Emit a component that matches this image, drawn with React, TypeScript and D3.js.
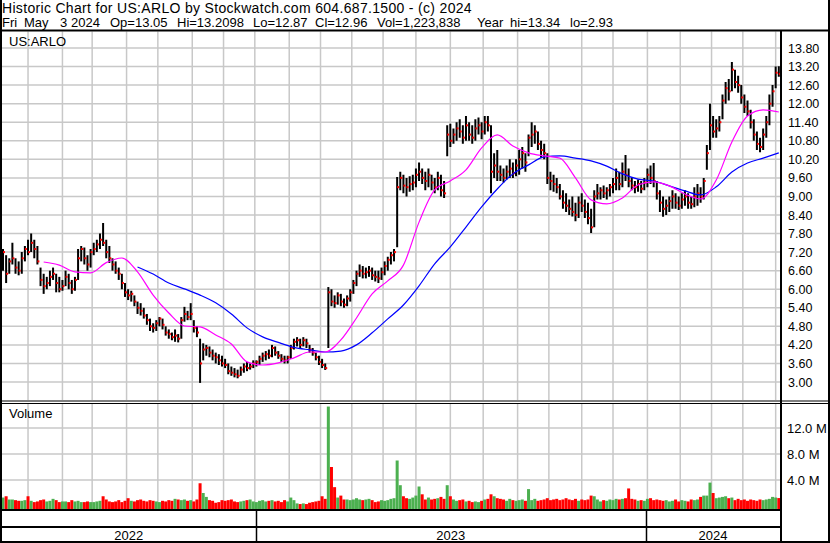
import * as d3 from 'd3';

const FONT = '"Liberation Sans", Arial, sans-serif';

// 2-trading-day bars from mid May 2022 to May 3 2024 (bar j sits on trading day 2*j)
const barHi = [
  7.3, 7.1, 7.0, 7.5, 7.0, 6.9, 7.2, 7.4, 7.6, 7.8,
  7.6, 7.4, 6.7, 6.5, 6.4, 6.6, 6.7, 6.5, 6.4, 6.3,
  6.6, 6.5, 6.3, 6.4, 7.3, 7.4, 7.35, 7.1, 7.3, 7.5,
  7.6, 7.8, 8.14, 7.6, 7.4, 7.0, 6.9, 6.7, 6.5, 6.2,
  6.0, 5.95, 5.8, 5.6, 5.55, 5.4, 5.2, 5.05, 4.9, 5.0,
  5.1, 5.05, 4.8, 4.7, 4.6, 4.7, 4.55, 5.1, 5.43, 5.3,
  5.55, 5.0, 4.8, 4.4, 4.25, 4.2, 4.15, 4.05, 3.95, 3.9,
  3.85, 3.75, 3.6, 3.5, 3.45, 3.4, 3.5, 3.6, 3.65, 3.6,
  3.7, 3.7, 3.85, 3.95, 4.0, 4.05, 4.2, 4.15, 4.0, 3.9,
  3.85, 3.85, 4.2, 4.4, 4.45, 4.4, 4.45, 4.4, 4.2, 4.1,
  3.95, 3.85, 3.75, 3.6, 6.07, 6.0, 5.8, 5.9, 5.85, 5.7,
  5.8, 6.0, 6.3, 6.6, 6.8, 6.75, 6.7, 6.75, 6.7, 6.6,
  6.6, 6.7, 6.9, 7.05, 7.2, 7.3, 9.63, 9.8, 9.7, 9.6,
  9.65, 9.7, 9.9, 10.1, 9.9, 9.8, 9.9, 9.7, 9.6, 9.8,
  9.7, 9.5, 11.3, 11.35, 11.2, 11.4, 11.5, 11.3, 11.6, 11.4,
  11.3, 11.5, 11.55, 11.4, 11.6, 11.6, 11.3, 10.4, 10.5, 10.0,
  9.9, 10.0, 10.2, 10.1, 10.2, 10.5, 10.6, 10.4, 11.0, 11.4,
  11.3, 11.1, 10.8, 10.7, 10.4, 9.8, 9.7, 9.6, 9.4, 9.2,
  9.1, 8.9, 9.0, 8.8, 9.0, 9.1, 8.9, 8.8, 8.6, 9.2,
  9.4, 9.3, 9.35, 9.3, 9.4, 9.6, 9.9, 9.8, 10.1, 10.34,
  9.9, 9.6, 9.5, 9.55, 9.5, 9.6, 9.9, 10.0, 10.08, 9.5,
  9.2, 9.0, 8.9, 9.0, 9.2, 9.1, 9.0, 9.1, 9.2, 9.1,
  9.0, 9.3, 9.4, 9.3, 9.6, 10.66, 12.0, 11.6, 11.5, 11.6,
  12.3, 12.7, 12.8, 13.35, 13.1, 12.9, 12.6, 12.3, 12.1, 11.8,
  11.5, 11.1, 10.9, 11.2, 11.6, 12.3, 12.6, 13.2, 13.21
];
const barLo = [
  6.6, 6.2, 6.5, 6.8, 6.5, 6.45, 6.5, 6.9, 7.1, 7.2,
  7.0, 6.8, 6.1, 5.85, 6.0, 6.1, 6.3, 5.9, 5.9, 5.95,
  6.1, 6.0, 5.85, 5.95, 6.3, 6.9, 6.8, 6.6, 6.7, 7.1,
  7.2, 7.3, 7.4, 7.0, 6.85, 6.6, 6.5, 6.3, 6.0, 5.75,
  5.65, 5.6, 5.45, 5.2, 5.15, 5.05, 4.85, 4.65, 4.6, 4.65,
  4.8, 4.7, 4.5, 4.4, 4.35, 4.3, 4.28, 4.4, 4.95, 5.0,
  5.0, 4.6, 4.45, 2.97, 3.7, 3.85, 3.8, 3.7, 3.6, 3.55,
  3.5, 3.45, 3.25, 3.2, 3.15, 3.12, 3.2, 3.3, 3.35, 3.4,
  3.45, 3.5, 3.55, 3.65, 3.7, 3.75, 3.8, 3.85, 3.75, 3.65,
  3.6, 3.6, 3.75, 4.05, 4.15, 4.1, 4.15, 4.1, 3.95, 3.85,
  3.7, 3.55, 3.45, 3.39, 4.1, 5.45, 5.4, 5.5, 5.45, 5.4,
  5.45, 5.6, 5.85, 6.1, 6.4, 6.35, 6.35, 6.4, 6.3, 6.25,
  6.2, 6.3, 6.45, 6.6, 6.8, 6.9, 7.36, 9.2, 9.1, 9.0,
  9.15, 9.2, 9.3, 9.5, 9.4, 9.2, 9.3, 9.2, 9.1, 9.2,
  9.0, 8.95, 10.3, 10.6, 10.7, 10.8, 10.9, 10.7, 10.8, 10.8,
  10.7, 10.8, 11.0, 10.85, 11.0, 11.1, 9.1, 9.6, 9.5, 9.5,
  9.45, 9.55, 9.6, 9.6, 9.65, 9.7, 9.9, 9.8, 10.3, 10.6,
  10.7, 10.5, 10.25, 10.2, 9.4, 9.2, 9.15, 9.1, 8.9, 8.6,
  8.5, 8.4, 8.35, 8.2, 8.3, 8.5, 8.3, 8.1, 7.82, 8.0,
  8.9, 8.9, 8.95, 8.9, 9.0, 9.1, 9.2, 9.2, 9.3, 9.5,
  9.3, 9.2, 9.1, 9.15, 9.1, 9.2, 9.3, 9.4, 9.3, 8.9,
  8.5, 8.34, 8.4, 8.5, 8.6, 8.6, 8.56, 8.6, 8.7, 8.6,
  8.6, 8.65, 8.7, 8.8, 8.9, 9.86, 10.5, 10.9, 10.9, 11.1,
  11.5, 12.0, 12.1, 12.4, 12.5, 12.35, 12.0, 11.7, 11.6, 11.2,
  10.8, 10.5, 10.43, 10.5, 10.9, 11.3, 11.9, 12.5, 12.87
];
const barCl = [
  7.2, 6.5, 6.9, 7.0, 6.7, 6.6, 7.0, 7.3, 7.2, 7.5,
  7.3, 6.9, 6.3, 6.1, 6.2, 6.4, 6.5, 6.2, 6.0, 6.1,
  6.4, 6.2, 6.0, 6.3, 7.0, 7.3, 7.0, 6.8, 7.2, 7.3,
  7.45, 7.6, 7.5, 7.2, 7.0, 6.8, 6.6, 6.5, 6.2, 5.9,
  5.8, 5.85, 5.6, 5.4, 5.3, 5.15, 5.0, 4.8, 4.75, 4.9,
  5.05, 4.85, 4.6, 4.55, 4.45, 4.5, 4.4, 5.0, 5.2, 5.1,
  5.2, 4.75, 4.6, 3.6, 4.05, 4.1, 3.95, 3.85, 3.8, 3.7,
  3.6, 3.55, 3.35, 3.3, 3.25, 3.2, 3.4, 3.5, 3.45, 3.5,
  3.6, 3.65, 3.75, 3.85, 3.9, 3.85, 4.1, 3.95, 3.85, 3.75,
  3.7, 3.8, 4.1, 4.3, 4.35, 4.2, 4.35, 4.25, 4.05, 3.95,
  3.8, 3.65, 3.55, 3.45, 5.9, 5.6, 5.55, 5.8, 5.6, 5.5,
  5.7, 5.9, 6.2, 6.5, 6.6, 6.5, 6.55, 6.6, 6.45, 6.4,
  6.35, 6.55, 6.75, 6.95, 7.1, 7.2, 9.3, 9.6, 9.35, 9.3,
  9.4, 9.45, 9.7, 9.8, 9.6, 9.5, 9.7, 9.45, 9.3, 9.6,
  9.2, 9.1, 11.0, 10.8, 11.0, 11.2, 11.1, 10.9, 11.3, 11.0,
  10.9, 11.2, 11.3, 11.1, 11.4, 11.3, 9.8, 10.0, 9.8, 9.7,
  9.6, 9.8, 9.9, 9.75, 10.0, 10.2, 10.4, 10.1, 10.9, 11.0,
  11.1, 10.7, 10.5, 10.4, 9.6, 9.5, 9.4, 9.3, 9.0, 8.8,
  8.7, 8.6, 8.5, 8.4, 8.8, 8.7, 8.5, 8.3, 8.0, 9.0,
  9.1, 9.2, 9.1, 9.2, 9.3, 9.4, 9.6, 9.4, 9.8, 9.7,
  9.5, 9.35, 9.3, 9.4, 9.25, 9.45, 9.7, 9.6, 9.5, 9.1,
  8.8, 8.6, 8.7, 8.85, 9.0, 8.8, 8.7, 8.9, 9.0, 8.8,
  8.75, 9.0, 9.1, 9.0, 9.5, 10.4, 11.3, 11.1, 11.2, 11.4,
  12.1, 12.5, 12.4, 13.1, 12.7, 12.6, 12.2, 11.9, 11.75, 11.4,
  11.0, 10.7, 10.6, 11.0, 11.4, 12.0, 12.4, 13.0, 12.96
];
// volume in millions of shares
const volM = [
  1.3, 1.5, 1.0, 1.0, 0.9, 0.8, 0.8, 0.9, 1.5, 0.8,
  0.6, 0.7, 0.9, 1.0, 0.7, 0.8, 1.1, 0.9, 0.6, 0.7,
  0.7, 0.6, 0.9, 0.7, 0.8, 0.6, 0.6, 0.7, 0.6, 0.6,
  0.7, 0.8, 1.5, 1.0, 0.7, 0.6, 0.7, 0.9, 0.6, 0.8,
  1.2, 0.8, 0.7, 0.9, 1.0, 0.8, 0.7, 0.9, 0.8, 0.7,
  0.6, 0.8, 0.7, 0.9, 0.8, 1.1, 1.0, 0.9, 1.0, 0.8,
  0.9, 0.7, 1.0, 3.5, 2.0, 1.4, 0.9, 0.8, 0.5, 0.6,
  0.9, 0.8, 0.9, 1.0, 0.7, 0.6, 0.7, 0.8, 0.9, 1.0,
  0.7, 0.6, 0.8, 0.9, 0.7, 0.8, 0.9, 0.7, 0.8, 0.6,
  0.9, 0.7, 1.3, 0.9, 0.4, 0.3, 0.4, 0.3, 0.5, 0.6,
  0.7, 0.8, 1.5, 1.1, 15.3, 6.0, 2.9, 1.3, 1.6, 1.0,
  1.0, 0.9, 1.0, 1.2, 1.0, 0.9, 1.0, 1.1, 0.9, 0.6,
  0.7, 0.9, 0.8, 0.9, 1.1, 1.2, 7.0, 3.2, 1.5, 1.2,
  1.1, 1.3, 1.6, 3.0, 1.8, 1.0, 1.3, 1.0, 1.1, 1.2,
  1.4, 1.1, 3.2, 1.5, 1.0, 0.8, 0.9, 1.0, 0.7, 0.8,
  0.6, 0.7, 0.6, 0.8, 1.0, 1.1, 1.8, 1.5, 1.2, 1.1,
  1.0, 0.8, 1.1, 0.9, 0.8, 0.9, 1.0, 0.8, 2.6, 0.9,
  1.1, 0.8, 0.9, 1.0, 1.2, 0.9, 1.0, 1.1, 0.9, 1.0,
  1.2, 1.0, 0.9, 1.1, 0.8, 1.0, 0.9, 1.0, 1.6, 1.5,
  1.0, 0.7, 0.9, 0.8, 1.0, 0.9, 1.1, 1.0, 1.1, 1.2,
  2.7, 1.1, 1.0, 0.8, 0.9, 0.8, 1.1, 1.2, 0.9, 1.0,
  0.9, 0.8, 0.9, 0.7, 0.8, 1.0, 0.7, 0.9, 0.8, 0.7,
  1.0, 0.9, 1.0, 1.4, 1.6, 1.6, 3.6, 2.0, 1.2, 1.3,
  1.4, 1.5, 1.2, 1.3, 0.9, 1.1, 0.9, 1.0, 0.8, 1.0,
  0.9, 0.8, 1.0, 0.9, 1.0, 1.1, 1.4, 1.3, 1.22
];

// moving averages, one value every 10 trading days
const fastStart = 26;
const maFast = [
  6.88, 6.78, 6.56, 6.53, 6.86, 7.01, 6.56, 5.81, 5.23, 4.81,
  4.78, 4.52, 4.23, 3.65, 3.55, 3.62, 3.78, 3.97, 3.97, 4.36,
  5.07, 5.85, 6.27, 6.78, 8.17, 9.21, 9.50, 9.86, 10.57, 10.99,
  10.63, 10.41, 10.31, 10.24, 9.60, 8.89, 8.76, 8.95, 9.37, 9.47,
  9.34, 9.08, 8.92, 9.53, 10.76, 11.60, 11.80, 11.73
];
const slowStart = 86;
const maSlow = [
  6.72, 6.49, 6.20, 6.01, 5.81, 5.56, 5.20, 4.75, 4.46, 4.28,
  4.12, 4.04, 3.97, 4.00, 4.20, 4.59, 5.04, 5.49, 6.11, 6.82,
  7.37, 8.01, 8.66, 9.24, 9.73, 10.02, 10.28, 10.31, 10.24, 10.15,
  9.98, 9.73, 9.56, 9.50, 9.34, 9.18, 9.05, 9.31, 9.79, 10.08,
  10.24, 10.41
];

const priceTicks = [13.8, 13.2, 12.6, 12.0, 11.4, 10.8, 10.2, 9.6, 9.0, 8.4, 7.8, 7.2, 6.6, 6.0, 5.4, 4.8, 4.2, 3.6, 3.0];
const volTicks = [4, 8, 12];
// trading-day index of each month start (gridlines)
const monthDays = [16, 38, 57, 79, 99, 121, 141, 161, 183, 203, 223, 243, 264, 286, 307, 329, 349, 370, 390, 412, 433, 453, 473, 494];
const yearLabels = ['2022', '2023', '2024'];
const yearStarts = [-2, 161.5, 411];

const header1 = 'Historic Chart for US:ARLO by Stockwatch.com 604.687.1500 - (c) 2024';
// second header line, one entry per field with its left edge
const header2 = ['Fri', 'May', '3', '2024', 'Op=13.05', 'Hi=13.2098', 'Lo=12.87', 'Cl=12.96', 'Vol=1,223,838', 'Year', 'hi=13.34', 'lo=2.93'];
const header2X = [2, 24, 60, 71, 110, 177, 253, 315, 377, 477, 510, 570];

export default function App() {
  const W = 830;
  const H = 543;
  const plotL = 2;
  const plotR = 780;
  const priceTop = 31.5;
  const priceBot = 400;
  const volTop = 404;
  const volBot = 509;

  const x = d3.scaleLinear([0, 496], [3, 778.8]);
  const y = d3.scaleLinear([3, 13.8], [382, 48]);
  const yv = d3.scaleLinear([0, 12], [506, 428]);

  const bars = barCl.map((c, j) => ({
    d: 2 * j,
    hi: barHi[j],
    lo: barLo[j],
    cl: c,
    vol: volM[j],
    up: j === 0 || c >= barCl[j - 1]
  }));

  const fastPts: [number, number][] = maFast.map((v, i) => [Math.min(fastStart + 10 * i, 496), v]);
  const slowPts: [number, number][] = maSlow.map((v, i) => [Math.min(slowStart + 10 * i, 496), v]);
  const line = d3.line<[number, number]>()
    .x(p => x(p[0]))
    .y(p => y(p[1]))
    .curve(d3.curveMonotoneX);

  const yearEdges = [...yearStarts.map(d => Math.max(plotL, x(d))), plotR];

  return (
    <svg width={W} height={H} style={{ position: 'absolute', left: 0, top: 0, background: '#fff' }}
      fontFamily={FONT}>
      <defs>
        <clipPath id="pclip"><rect x={plotL} y={priceTop} width={plotR - plotL} height={priceBot - priceTop} /></clipPath>
        <clipPath id="vclip"><rect x={plotL} y={volTop} width={plotR - plotL} height={volBot - volTop} /></clipPath>
      </defs>
      <rect width={W} height={H} fill="#fff" />

      {/* header */}
      <text x={2} y={12.5} fontSize={14} letterSpacing={0.32}>{header1}</text>
      <text y={26.5} fontSize={13}>
        {header2.map((s, i) => (
          <tspan key={i} x={header2X[i]}>{s}</tspan>
        ))}
      </text>

      {/* grid */}
      <g stroke="#c8c8c8" strokeWidth={1.5}>
        {priceTicks.map(t => (
          <line key={'h' + t} x1={plotL} x2={plotR} y1={y(t)} y2={y(t)} />
        ))}
        {volTicks.map(t => (
          <line key={'v' + t} x1={plotL} x2={plotR} y1={yv(t)} y2={yv(t)} />
        ))}
        {monthDays.map(d => (
          <g key={'m' + d}>
            <line x1={x(d)} x2={x(d)} y1={priceTop} y2={priceBot} />
            <line x1={x(d)} x2={x(d)} y1={volTop} y2={volBot} />
          </g>
        ))}
      </g>

      {/* price bars */}
      <g clipPath="url(#pclip)">
        <g stroke="#000" strokeWidth={2}>
          {bars.map(b => (
            <line key={b.d} x1={x(b.d)} x2={x(b.d)} y1={y(b.hi)} y2={y(b.lo)} />
          ))}
        </g>
        <g fill="#ff0000">
          {bars.map(b => (
            <rect key={b.d} x={x(b.d)} y={y(b.cl) - 1} width={2} height={2} />
          ))}
        </g>
        <path d={line(slowPts) || ''} fill="none" stroke="#0000ff" strokeWidth={1.2} />
        <path d={line(fastPts) || ''} fill="none" stroke="#ff00ff" strokeWidth={1.2} />
      </g>

      {/* volume bars */}
      <g clipPath="url(#vclip)">
        {bars.map(b => (
          <rect key={b.d} x={x(b.d) - 1.5} width={3} y={yv(b.vol)} height={volBot - yv(b.vol)}
            fill={b.up ? '#4cb050' : '#ff0000'} />
        ))}
      </g>

      <text x={9} y={45.5} fontSize={13}>US:ARLO</text>
      <text x={9} y={418} fontSize={13}>Volume</text>

      {/* right axis labels */}
      <g fontSize={12.5}>
        {priceTicks.map(t => (
          <text key={t} x={788} y={y(t)} dy="0.36em">{t.toFixed(2)}</text>
        ))}
        {volTicks.map(t => (
          <text key={t} x={787} y={yv(t)} dy="0.36em" fontSize={13}>{t.toFixed(1) + ' M'}</text>
        ))}
      </g>

      {/* frame */}
      <g stroke="#000" fill="none">
        <line x1={1} x2={1} y1={0} y2={H} strokeWidth={2} />
        <line x1={829} x2={829} y1={0} y2={H} strokeWidth={2} />
        <line x1={0} x2={W} y1={30.5} y2={30.5} strokeWidth={2} />
        <line x1={781} x2={781} y1={30} y2={542} strokeWidth={2} />
        <line x1={0} x2={W} y1={401} y2={401} strokeWidth={1} />
        <line x1={0} x2={W} y1={403.5} y2={403.5} strokeWidth={1} />
        <line x1={0} x2={782} y1={510} y2={510} strokeWidth={2} />
        <line x1={0} x2={782} y1={527} y2={527} strokeWidth={2} />
        <line x1={0} x2={W} y1={542} y2={542} strokeWidth={2} />
        {yearStarts.slice(1).map(d => (
          <line key={d} x1={Math.round(x(d)) + 0.5} x2={Math.round(x(d)) + 0.5} y1={510} y2={542} strokeWidth={1.5} />
        ))}
      </g>

      {/* year labels */}
      {yearLabels.map((lab, i) => (
        <text key={lab} x={(yearEdges[i] + yearEdges[i + 1]) / 2} y={539.5} fontSize={13} textAnchor="middle">{lab}</text>
      ))}
    </svg>
  );
}
